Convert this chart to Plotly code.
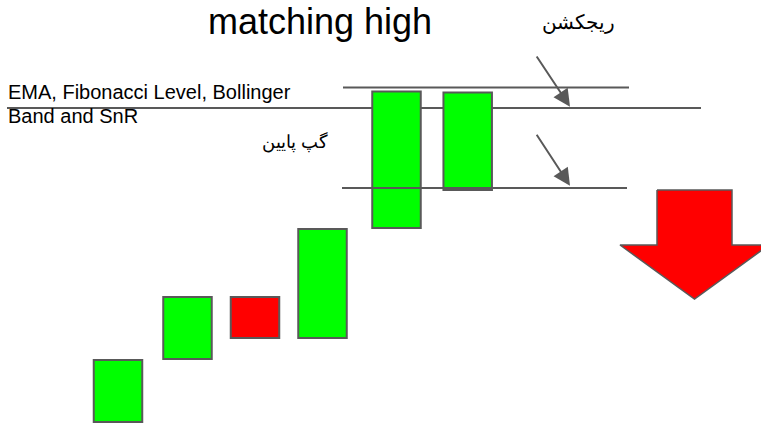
import plotly.graph_objects as go


# setting
WIDTH = 761
HEIGHT = 426
EDGE = "#595959"
GREEN = "#00ff00"
RED = "#ff0000"
FONT = "Arial, Liberation Sans, sans-serif"

# candles (price scale)
candle_x = [118, 187.5, 255, 322.5, 396.5, 467.7]
candle_open = [4, 67, 129, 88, 198, 236]
candle_close = [66, 129, 88, 197, 334.5, 333.5]

# levels: top band, EMA/fibo line, bottom of gap
level_y = [338.5, 318, 238]
level_x0 = [343, 7, 342]
level_x1 = [629, 701, 627]
level_layer = ["below", "below", "above"]

# small pointer arrows (tail -> head)
pointer_tail_x = [535.7, 535.7]
pointer_tail_y = [371, 292.7]
pointer_head_x = [570, 570]
pointer_head_y = [319.3, 240.3]

# big red down arrow
ARROW_CX = 694.5
ARROW_SHAFT_HALF = 37.5
ARROW_HEAD_HALF = 74.5
ARROW_TOP = 236
ARROW_NECK = 181
ARROW_TIP = 127


# 1. candles as floating bars
bases = [min(o, c) for o, c in zip(candle_open, candle_close)]
heights = [abs(c - o) for o, c in zip(candle_open, candle_close)]
colors = [GREEN if c > o else RED for o, c in zip(candle_open, candle_close)]

fig = go.Figure()
fig.add_trace(go.Bar(x=candle_x, y=heights, base=bases, width=48.5,
                     marker=dict(color=colors, line=dict(color=EDGE, width=2)),
                     showlegend=False, hoverinfo="skip"))

# 2. big red arrow
ax_pts = [ARROW_CX - ARROW_SHAFT_HALF, ARROW_CX + ARROW_SHAFT_HALF, ARROW_CX + ARROW_SHAFT_HALF,
          ARROW_CX + ARROW_HEAD_HALF, ARROW_CX, ARROW_CX - ARROW_HEAD_HALF,
          ARROW_CX - ARROW_SHAFT_HALF, ARROW_CX - ARROW_SHAFT_HALF]
ay_pts = [ARROW_TOP, ARROW_TOP, ARROW_NECK, ARROW_NECK, ARROW_TIP, ARROW_NECK, ARROW_NECK, ARROW_TOP]
fig.add_trace(go.Scatter(x=ax_pts, y=ay_pts, mode="lines", fill="toself", fillcolor=RED,
                         line=dict(color=EDGE, width=1.5), showlegend=False, hoverinfo="skip"))

# 3. level lines
for y, x0, x1, layer in zip(level_y, level_x0, level_x1, level_layer):
    fig.add_shape(type="line", xref="x", yref="y", x0=x0, x1=x1, y0=y, y1=y,
                  line=dict(color=EDGE, width=2), layer=layer)

# 4. pointer arrows
for tx, ty, hx, hy in zip(pointer_tail_x, pointer_tail_y, pointer_head_x, pointer_head_y):
    fig.add_annotation(x=hx, y=hy, ax=tx, ay=ty, xref="x", yref="y", axref="x", ayref="y",
                       text="", showarrow=True, arrowhead=2, arrowsize=1.7, arrowwidth=2,
                       arrowcolor=EDGE)

# 5. texts
fig.add_annotation(x=320, y=404.6, text="matching high", showarrow=False,
                   xanchor="center", yanchor="middle", font=dict(family=FONT, size=36, color="black"))
fig.add_annotation(x=6, y=333.6, text="EMA, Fibonacci Level, Bollinger", showarrow=False,
                   xanchor="left", yanchor="middle", font=dict(family=FONT, size=20, color="black"))
fig.add_annotation(x=6, y=310.3, text="Band and SnR", showarrow=False,
                   xanchor="left", yanchor="middle", font=dict(family=FONT, size=20, color="black"))
fig.add_annotation(x=294.5, y=284, text="گپ پایین", showarrow=False,
                   xanchor="center", yanchor="middle", font=dict(family=FONT, size=17.5, color="black"))
fig.add_annotation(x=578.5, y=404, text="ریجکشن", showarrow=False,
                   xanchor="center", yanchor="middle", font=dict(family=FONT, size=20, color="black"))

fig.update_layout(width=WIDTH, height=HEIGHT, margin=dict(l=0, r=0, t=0, b=0),
                  paper_bgcolor="white", plot_bgcolor="white",
                  xaxis=dict(range=[0, WIDTH], visible=False, fixedrange=True),
                  yaxis=dict(range=[0, HEIGHT], visible=False, fixedrange=True))
fig.write_html("out.html", config={"displayModeBar": False})

# the page body has a default 8px margin, drop it so the figure fills the window
with open("out.html", encoding="utf-8") as f:
    html = f.read()
html = html.replace("<body>", '<body style="margin:0;overflow:hidden">', 1)
with open("out.html", "w", encoding="utf-8") as f:
    f.write(html)
